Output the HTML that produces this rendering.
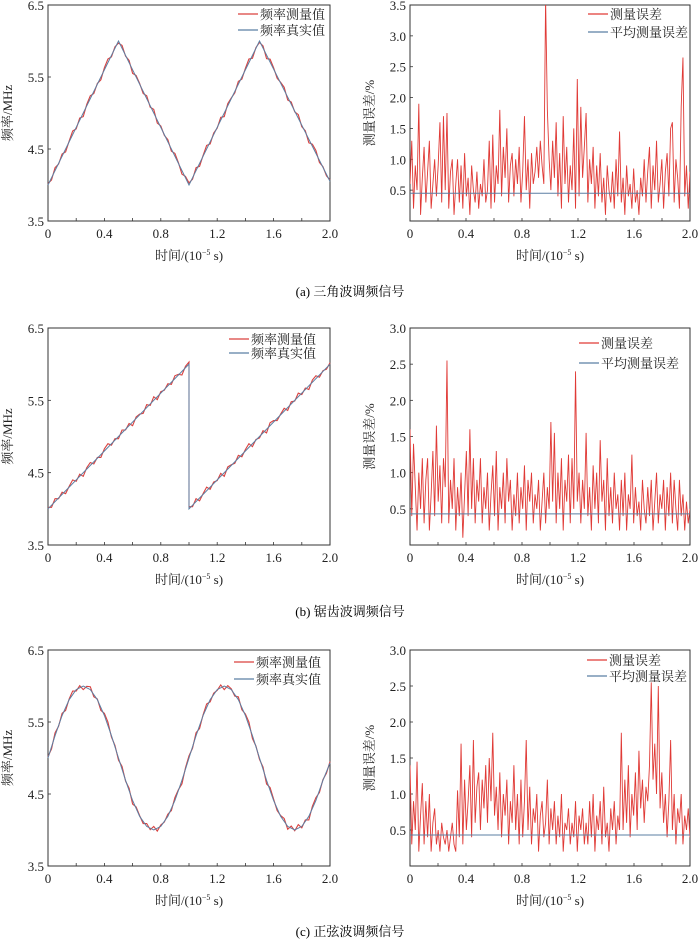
<!DOCTYPE html>
<html><head><meta charset="utf-8">
<style>
html,body{margin:0;padding:0;background:#fff;}
svg{display:block;font-family:"Liberation Serif","Noto Serif CJK SC",serif;}
</style></head>
<body>
<svg id="fig" width="700" height="939" viewBox="0 0 700 939" xmlns="http://www.w3.org/2000/svg">
<text x="350" y="296" text-anchor="middle" font-size="13">(a) 三角波调频信号</text>
<text x="350" y="616" text-anchor="middle" font-size="13">(b) 锯齿波调频信号</text>
<text x="350" y="936" text-anchor="middle" font-size="13">(c) 正弦波调频信号</text>
</svg>
<script>
// ---- data ----
const triT=[0,0.5,1,1.5,2];
const triF=[4,6,4,6,4.05];
const sawT=[0,1,1,2];
const sawF=[4,6,4,6];
const sinT=[0,0.05,0.1,0.15,0.2,0.25,0.3,0.35,0.4,0.45,0.5,0.55,0.6,0.65,0.7,0.75,0.8,0.85,0.9,0.95,1,1.05,1.1,1.15,1.2,1.25,1.3,1.35,1.4,1.45,1.5,1.55,1.6,1.65,1.7,1.75,1.8,1.85,1.9,1.95,2];
const sinF=[5,5.31,5.59,5.81,5.95,6,5.95,5.81,5.59,5.31,5,4.69,4.41,4.19,4.05,4,4.05,4.19,4.41,4.69,5,5.31,5.59,5.81,5.95,6,5.95,5.81,5.59,5.31,5,4.69,4.41,4.19,4.05,4,4.05,4.19,4.41,4.69,4.93];
const measNoise=[0.02,-0.03,0.04,-0.01,0.03,-0.04,0.01,0.05,-0.02,0.03,-0.05,0.02,0.04,-0.03,0.01,-0.04,0.03,0.05,-0.02,0.02,
-0.03,0.04,-0.01,0.03,-0.05,0.02,0.01,-0.03,0.04,-0.02,0.05,-0.04,0.02,-0.01,0.03,-0.03,0.04,0.01,-0.05,0.02,
0.03,-0.02,0.04,-0.04,0.01,0.05,-0.03,0.02,-0.01,0.04,-0.05,0.03,0.01,-0.02,0.04,-0.03,0.02,0.05,-0.04,0.01,
-0.02,0.03,-0.05,0.04,0.02,-0.03,0.01,0.04,-0.04,0.03,-0.01,0.05,-0.02,0.02,-0.05,0.03,0.04,-0.03,0.01,-0.02,0.02];
const err1=[0.6,1.3,0.2,0.9,0.5,1.9,0.1,0.7,1.2,0.3,0.8,1.3,0.2,0.6,1.0,0.4,0.9,1.6,0.3,1.7,
0.5,1.75,0.2,0.8,1.0,0.1,0.6,1.0,0.3,0.9,0.2,1.1,0.4,0.7,0.1,0.9,0.5,0.3,0.8,0.2,
0.6,0.4,1.0,0.3,0.5,1.3,0.2,1.4,0.3,0.9,0.6,1.8,0.4,1.2,0.7,1.5,0.3,0.9,1.1,0.4,
1.0,0.6,1.2,0.3,0.8,1.7,0.5,1.0,0.2,1.1,0.6,0.8,1.2,0.7,1.3,0.9,0.6,3.6,1.8,1.0,
0.5,1.3,0.7,1.6,0.4,1.1,0.2,1.7,0.6,1.2,0.3,0.9,0.5,1.5,0.2,2.3,0.4,1.85,0.7,1.2,
1.75,0.3,1.0,0.6,1.2,0.2,0.9,0.4,1.1,0.3,0.7,0.1,0.9,0.5,0.3,0.8,0.2,1.0,0.4,1.45,
0.3,0.7,0.1,0.9,0.4,0.6,0.2,0.85,0.3,0.5,0.1,0.7,0.4,1.0,0.3,0.8,1.2,0.2,0.9,0.5,
1.3,0.3,0.6,1.0,0.2,0.8,1.1,0.4,1.5,1.6,0.3,1.0,0.7,0.2,1.85,2.65,0.4,0.9,0.2,0.8];
const err2=[1.6,0.4,1.4,0.8,0.2,1.0,0.5,1.2,0.3,0.9,1.2,0.2,0.7,1.3,0.4,1.65,0.6,1.1,0.3,1.2,
0.8,2.55,0.3,0.9,0.5,1.2,0.2,0.8,0.4,1.0,0.1,0.7,1.3,0.4,1.6,0.5,1.2,0.3,0.9,0.6,
1.2,0.3,0.8,0.5,1.0,0.2,0.7,1.1,0.4,1.3,0.2,0.8,0.5,1.0,0.3,1.2,0.6,0.9,0.2,0.7,
0.4,1.0,0.3,0.8,0.5,1.1,0.2,0.9,0.6,1.0,0.3,0.7,0.5,0.9,0.2,0.6,1.0,0.3,0.8,0.5,
1.7,0.6,1.55,0.3,1.0,0.5,1.2,0.2,0.9,0.6,1.25,0.3,1.2,0.5,2.4,0.6,1.0,0.3,0.9,0.5,
1.55,0.4,0.8,0.2,1.1,0.5,1.0,0.3,1.45,0.6,0.9,0.2,1.2,0.4,0.8,0.3,1.0,0.5,0.7,0.2,
0.9,0.4,1.0,0.2,0.7,0.5,1.25,0.3,0.8,0.4,0.6,0.2,0.9,0.5,0.3,0.8,0.4,0.9,0.2,0.6,
1.0,0.3,0.7,0.5,0.9,0.2,0.8,0.4,1.0,0.3,0.9,0.5,0.2,0.9,0.4,0.7,0.2,0.6,0.3,0.5];
const err3=[1.4,0.3,0.9,0.5,1.45,0.2,0.7,1.15,0.3,0.9,0.4,1.0,0.2,0.6,0.8,0.3,0.5,0.2,0.6,0.4,
0.3,0.5,0.2,0.4,0.6,0.3,0.2,1.05,0.4,1.7,0.3,1.2,0.5,0.9,1.4,0.4,1.75,0.6,1.1,1.3,
0.5,1.2,0.8,1.4,0.6,1.5,0.9,1.85,0.7,1.1,0.5,1.3,0.4,1.0,0.7,1.2,0.3,0.9,0.6,1.4,
0.5,1.0,0.3,1.2,0.4,0.9,1.75,0.5,1.1,0.3,0.8,0.6,1.0,0.2,0.7,0.9,0.4,0.6,1.2,0.3,
0.8,0.5,0.9,0.3,0.7,0.4,1.0,0.2,0.6,0.5,0.8,0.3,0.6,0.4,0.9,0.2,0.7,0.5,0.8,0.3,
0.6,0.3,0.9,0.4,1.0,0.2,0.7,0.5,0.9,0.3,1.1,0.4,0.6,0.2,0.8,0.5,0.9,0.3,0.7,0.5,
1.85,0.5,1.2,0.6,1.4,0.4,1.0,0.7,1.3,0.5,1.6,0.8,1.2,0.6,1.1,0.9,1.4,2.55,1.2,1.7,
1.0,2.5,0.8,1.3,0.6,1.0,0.4,0.9,1.75,0.5,1.0,0.3,0.8,0.6,1.0,0.3,0.7,0.5,0.8,0.4];
const meanErr=[0.45,0.43,0.43];
const xTicks=["0","0.4","0.8","1.2","1.6","2.0"];
const fTicks=["3.5","4.5","5.5","6.5"];
const e1Ticks=["0.5","1.0","1.5","2.0","2.5","3.0","3.5"];
const e23Ticks=["0.5","1.0","1.5","2.0","2.5","3.0"];

const NS="http://www.w3.org/2000/svg";
const svg=document.getElementById('fig');
function mk(tag,attrs,parent){const e=document.createElementNS(NS,tag);for(const k in attrs)e.setAttribute(k,attrs[k]);(parent||svg).appendChild(e);return e;}
function interp(T,F,t){for(let i=0;i<T.length-1;i++){if(t>=T[i]&&t<=T[i+1]){if(T[i+1]===T[i])return F[i+1];return F[i]+(F[i+1]-F[i])*(t-T[i])/(T[i+1]-T[i]);}}return F[F.length-1];}

function frame(g,x0,x1,y0,y1,ymin,ymax,yTicks,ytitle,prefix){
  const sx=t=>x0+(t/2)*(x1-x0), sy=v=>y1-(v-ymin)/(ymax-ymin)*(y1-y0);
  const r=mk('rect',{x:x0,y:y0,width:x1-x0,height:y1-y0,fill:'none',stroke:'#333','stroke-width':1},g);
  
  
  for(let k=0;k<=10;k++){const x=sx(k*0.2);const tk=mk('line',{x1:x,x2:x,y1:y1,y2:y1-3,stroke:'#333','stroke-width':0.8},g);
    
    }
  xTicks.forEach(s=>{const tx=mk('text',{x:sx(parseFloat(s)),y:y1+17,'text-anchor':'middle','font-size':13,fill:'#222'},g);tx.textContent=s;
    
    });
  yTicks.forEach(s=>{const v=parseFloat(s),y=sy(v);const tk=mk('line',{x1:x0,x2:x0+3,y1:y,y2:y,stroke:'#333','stroke-width':0.8},g);
    
    
    const tx=mk('text',{x:x0-4,y:y+5,'text-anchor':'end','font-size':13,fill:'#222'},g);tx.textContent=s;
    
    });
  const xt=mk('text',{x:(x0+x1)/2,y:y1+39,'text-anchor':'middle','font-size':13,fill:'#222'},g);
  xt.innerHTML='时间/(10<tspan font-size="8" dy="-5">−5</tspan><tspan dy="5"> s)</tspan>';
  
  
  const cx=x0-36, cy=(y0+y1)/2;
  const yt=mk('text',{x:cx,y:cy,'text-anchor':'middle','font-size':13,fill:'#222',transform:`rotate(-90 ${cx} ${cy})`},g);yt.textContent=ytitle;
  
  
  return {sx,sy};
}
function legend(g,lx,ly,dy,labels,colors,prefix){
  labels.forEach((s,i)=>{const y=ly+i*dy;
    const ln=mk('line',{x1:lx,x2:lx+20,y1:y,y2:y,stroke:colors[i],'stroke-width':1.2},g);
    
    
    const tx=mk('text',{x:lx+22,y:y+5,'font-size':13,fill:'#222'},g);tx.textContent=s;
    
    });
}
function freqPanel(prefix,y0,y1,T,F,leg){
  const g=mk('g',{});
  
  
  const {sx,sy}=frame(g,48,330,y0,y1,3.5,6.5,fTicks,'频率/MHz',prefix);
  // measured
  let pts=[];const n=measNoise.length-1;
  for(let i=0;i<=n;i++){const t=2*i/n;let f=interp(T,F,t);
    if(T===sawT&&i===n/2){pts.push(sx(t)+','+sy(6+measNoise[i]));f=4;}
    pts.push(sx(t)+','+sy(f+measNoise[i]));}
  const m=mk('polyline',{points:pts.join(' '),fill:'none',stroke:'#d9413f','stroke-width':1.1},g);
  
  
  const tp=T.map((t,i)=>sx(t)+','+sy(F[i])).join(' ');
  const tl=mk('polyline',{points:tp,fill:'none',stroke:'#5b7fa3','stroke-width':1},g);
  
  
  legend(g,leg[0],leg[1],leg[2],['频率测量值','频率真实值'],['#d9413f','#5b7fa3'],prefix);
}
function errPanel(prefix,y0,y1,ymax,ticks,E,mean,leg){
  const g=mk('g',{});
  
  
  const {sx,sy}=frame(g,410,690,y0,y1,0,ymax,ticks,'测量误差/%',prefix);
  const cp=mk('clipPath',{id:prefix+'clip'},g);
  mk('rect',{x:410,y:y0,width:280,height:y1-y0},cp);
  const pts=E.map((v,i)=>sx(2*i/(E.length-1))+','+sy(v)).join(' ');
  const l=mk('polyline',{points:pts,fill:'none',stroke:'#e03a36','stroke-width':0.9,'clip-path':`url(#${prefix}clip)`},g);
  
  
  const ml=mk('line',{x1:sx(0),x2:sx(2),y1:sy(mean),y2:sy(mean),stroke:'#5b7fa3','stroke-width':1},g);
  
  
  legend(g,leg[0],leg[1],leg[2],['测量误差','平均测量误差'],['#e03a36','#5b7fa3'],prefix);
}
freqPanel('a-left',5,221,triT,triF,[238,14,16]);
errPanel('a-right',5,221,3.5,e1Ticks,err1,meanErr[0],[588,14,18]);
freqPanel('b-left',328,545,sawT,sawF,[229,339,14]);
errPanel('b-right',328,545,3.0,e23Ticks,err2,meanErr[1],[579,343,20]);
freqPanel('c-left',650,866,sinT,sinF,[234,662,17]);
errPanel('c-right',650,866,3.0,e23Ticks,err3,meanErr[2],[587,660,16]);
</script>
</body></html>
